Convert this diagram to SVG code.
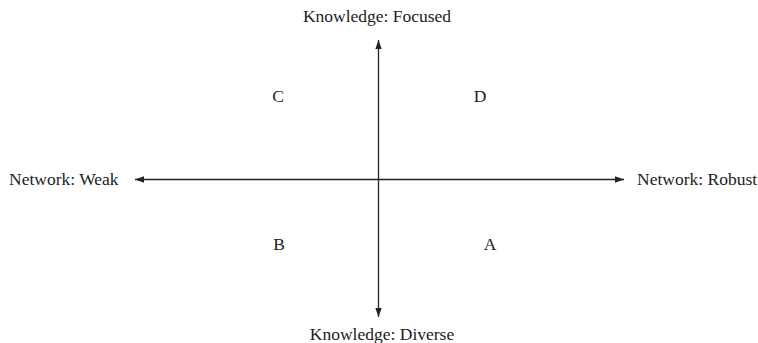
<svg xmlns="http://www.w3.org/2000/svg" width="758" height="343" viewBox="0 0 758 343">
<style>
text{font-family:"Liberation Serif","Times New Roman",serif;font-size:17.5px;fill:#222}
.ax{stroke:#222;stroke-width:1.3;fill:none}
</style>
<defs>
<marker id="ah" viewBox="0 0 10 7" refX="10" refY="3.5" markerWidth="9" markerHeight="7" markerUnits="userSpaceOnUse" orient="auto-start-reverse">
<path d="M0,0 L10,3.5 L0,7 Z" fill="#222"/>
</marker>
</defs>
<rect width="758" height="343" fill="#fff"/>
<g id="connectors">
<line class="ax" x1="135" y1="179.5" x2="624" y2="179.5" marker-start="url(#ah)" marker-end="url(#ah)"/>
<line class="ax" x1="378.5" y1="40" x2="378.5" y2="317" marker-start="url(#ah)" marker-end="url(#ah)"/>
</g>
<g id="top"><text x="377" y="22" text-anchor="middle">Knowledge: Focused</text></g>
<g id="bottom"><text x="382" y="340" text-anchor="middle">Knowledge: Diverse</text></g>
<g id="left"><text x="9" y="185">Network: Weak</text></g>
<g id="right"><text x="637" y="185">Network: Robust</text></g>
<g id="C"><text x="278" y="102" text-anchor="middle">C</text></g>
<g id="D"><text x="480" y="102" text-anchor="middle">D</text></g>
<g id="B"><text x="279" y="250" text-anchor="middle">B</text></g>
<g id="A"><text x="490" y="250" text-anchor="middle">A</text></g>
</svg>
